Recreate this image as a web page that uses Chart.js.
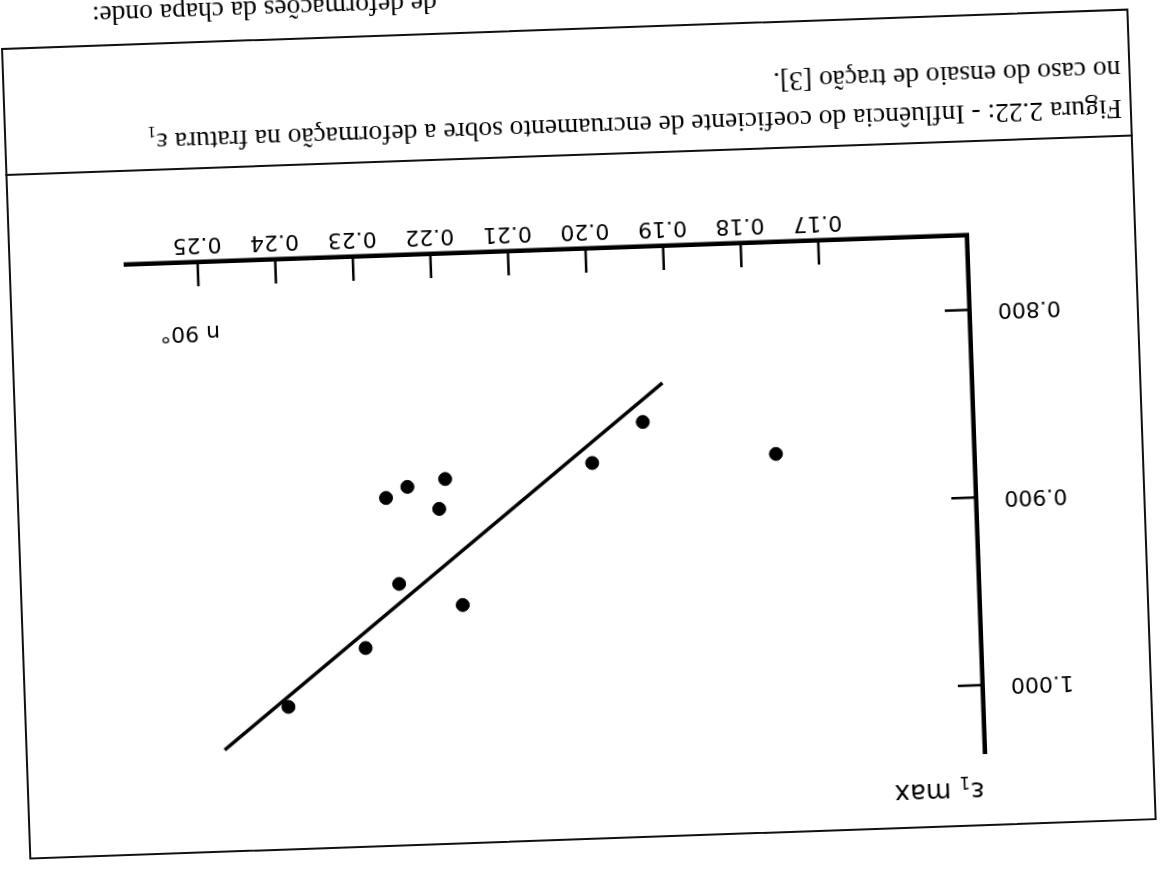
<!DOCTYPE html>
<html lang="pt">
<head>
<meta charset="UTF-8">
<title>Figura 2.22 - n x epsilon1 max</title>
<script src="https://cdn.jsdelivr.net/npm/chart.js"></script>
<style>
    * { box-sizing: border-box; margin: 0; padding: 0; }
    html, body { width: 1160px; height: 877px; overflow: hidden; background: #fff; }
    /* the scan is upside down, so the whole sheet is turned */
    #page {
        position: absolute; left: 0; top: 0;
        width: 1160px; height: 877px;
        transform: rotate(178deg);
        transform-origin: 580px 438.5px;
    }
    #frame { position: absolute; left: 17px; top: 37px; width: 1128px; height: 812px; border: 2px solid #111; }
    #divider { position: absolute; left: 17px; top: 721px; width: 1128px; border-top: 2px solid #111; }
    .caption {
        position: absolute; left: 27px;
        font-family: "Liberation Serif", "Times New Roman", serif;
        font-size: 27.5px; color: #000; white-space: nowrap;
    }
    .label { position: absolute; font-family: "DejaVu Sans", sans-serif; color: #000; white-space: nowrap; }
    #chartBox { position: absolute; left: 0; top: 0; width: 1160px; height: 877px; }
</style>
</head>
<body>
<div id="page">
    <div id="frame"></div>
    <div id="divider"></div>
    <div id="chartBox"><canvas id="chart" width="1160" height="877"></canvas></div>
    <div class="label" style="left:188px; top:57px; font-size:26px;">ε<sub style="font-size:17px;">1</sub> max</div>
    <div class="label" style="left:936px; top:544px; font-size:22px;">n 90°</div>
    <div class="caption" style="top:733px;">Figura 2.22: - Influência do coeficiente de encruamento sobre a deformação na fratura ε<sub style="font-size:17px;">1</sub></div>
    <div class="caption" style="top:772px;">no caso do ensaio de tração [3].</div>
    <div class="caption" style="left:auto; right:107px; top:862px;">de deformações da chapa onde:</div>
</div>
<script>
    // measured points: hardening coefficient n (90 deg) vs max strain at fracture
    const nValues   = [0.2403, 0.2301, 0.2255, 0.2174, 0.2268, 0.2240, 0.2191, 0.2200, 0.2001, 0.1934, 0.1764];
    const epsValues = [0.9987, 0.9688, 0.9353, 0.9477, 0.8893, 0.8838, 0.8803, 0.8961, 0.8745, 0.8536, 0.8731];

    // hand drawn trend line (two end points)
    const fitN   = [0.1907, 0.2487];
    const fitEps = [0.8332, 1.0205];

    const xTicks = [0.17, 0.18, 0.19, 0.20, 0.21, 0.22, 0.23, 0.24, 0.25];
    const xTickLabels = ["0.17", "0.18", "0.19", "0.20", "0.21", "0.22", "0.23", "0.24", "0.25"];
    const yTicks = [0.8, 0.9, 1.0];
    const yTickLabels = ["0.800", "0.900", "1.000"];

    // the scan uses a narrow stencil-like face, pick the narrowest one we have
    function fontWidth(font) {
        let c = document.createElement('canvas').getContext('2d');
        c.font = font;
        return c.measureText('0.123456789').width;
    }
    let tickFont;
    if (fontWidth("40px 'Liberation Sans Narrow', monospace") !== fontWidth("40px monospace")) {
        tickFont = { family: "'Liberation Sans Narrow'", size: 26 };
    } else {
        tickFont = { family: "'DejaVu Sans'", size: 22 };
    }

    // ticks of the original point into the plot
    const inwardTicks = {
        id: 'inwardTicks',
        afterDatasetsDraw(chart) {
            const { ctx, chartArea, scales: { x, y } } = chart;
            ctx.save();
            ctx.strokeStyle = '#000';
            ctx.lineWidth = 2.5;
            xTicks.forEach(v => {
                let px = x.getPixelForValue(v);
                ctx.beginPath();
                ctx.moveTo(px, chartArea.bottom);
                ctx.lineTo(px, chartArea.bottom - 24);
                ctx.stroke();
            });
            yTicks.forEach(v => {
                let py = y.getPixelForValue(v);
                ctx.beginPath();
                ctx.moveTo(chartArea.left, py);
                ctx.lineTo(chartArea.left + 25, py);
                ctx.stroke();
            });
            ctx.restore();
        }
    };

    new Chart(document.getElementById('chart'), {
        type: 'scatter',
        data: {
            datasets: [{
                data: nValues.map((n, i) => ({ x: n, y: epsValues[i] })),
                backgroundColor: '#000',
                borderColor: '#000',
                pointRadius: 6.5,
                pointHoverRadius: 6.5
            }, {
                data: fitN.map((n, i) => ({ x: n, y: fitEps[i] })),
                showLine: true,
                borderColor: '#000',
                borderWidth: 3.5,
                pointRadius: 0
            }]
        },
        options: {
            responsive: false,
            animation: false,
            layout: { padding: { left: 86, right: 131, top: 111, bottom: 189 } },
            plugins: { legend: { display: false }, tooltip: { enabled: false } },
            scales: {
                x: {
                    type: 'linear',
                    min: 0.1508,
                    max: 0.2594,
                    grid: { display: false },
                    border: { display: true, color: '#000', width: 4.5 },
                    afterBuildTicks: scale => { scale.ticks = xTicks.map(v => ({ value: v })); },
                    afterFit: scale => { scale.height = 60; },
                    ticks: {
                        color: '#000',
                        font: tickFont,
                        padding: -3,
                        maxRotation: 0,
                        callback: (v, i) => xTickLabels[i]
                    }
                },
                y: {
                    type: 'linear',
                    min: 0.7603,
                    max: 1.0357,
                    grid: { display: false },
                    border: { display: true, color: '#000', width: 4.5 },
                    afterBuildTicks: scale => { scale.ticks = yTicks.map(v => ({ value: v })); },
                    afterFit: scale => { scale.width = 100; },
                    ticks: {
                        color: '#000',
                        font: tickFont,
                        padding: 20,
                        callback: (v, i) => yTickLabels[i]
                    }
                }
            }
        },
        plugins: [inwardTicks]
    });
</script>
</body>
</html>
